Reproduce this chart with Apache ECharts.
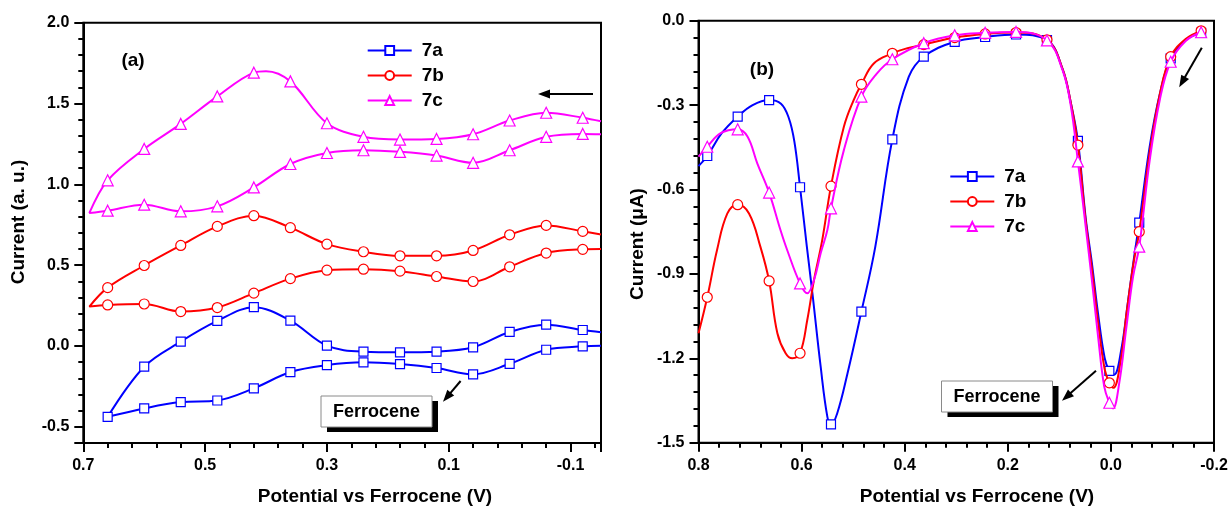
<!DOCTYPE html>
<html>
<head>
<meta charset="utf-8">
<title>CV / DPV of 7a-7c</title>
<script src="https://cdn.jsdelivr.net/npm/echarts@6/dist/echarts.min.js"></script>
<style>
  html, body { margin: 0; padding: 0; background: #fff; }
  #chart { width: 1231px; height: 508px; }
</style>
</head>
<body>
<div id="chart"></div>
<script>
// ---- panel (a): cyclic voltammograms, [potential vs Fc (V), current (a.u.)]
// upper branch read right -> left, then lower branch back left -> right
const cv7a = [
  [-0.15, 0.085], [-0.12, 0.099], [-0.06, 0.132], [0.0, 0.087], [0.06, -0.008], [0.12, -0.035],
  [0.18, -0.039], [0.24, -0.035], [0.30, 0.002], [0.36, 0.157], [0.42, 0.240], [0.48, 0.155],
  [0.54, 0.027], [0.60, -0.128], [0.66, -0.438],
  [0.60, -0.386], [0.54, -0.347], [0.48, -0.337], [0.42, -0.262], [0.36, -0.161], [0.30, -0.118],
  [0.24, -0.101], [0.18, -0.112], [0.12, -0.136], [0.06, -0.175], [0.0, -0.110], [-0.06, -0.023],
  [-0.12, -0.002], [-0.15, 0.002]
];
const cv7b = [
  [-0.15, 0.690], [-0.12, 0.709], [-0.06, 0.746], [0.0, 0.688], [0.06, 0.591], [0.12, 0.558],
  [0.18, 0.558], [0.24, 0.583], [0.30, 0.630], [0.36, 0.732], [0.42, 0.806], [0.48, 0.740],
  [0.54, 0.622], [0.60, 0.498], [0.66, 0.361], [0.69, 0.244],
  [0.66, 0.254], [0.60, 0.260], [0.54, 0.213], [0.48, 0.238], [0.42, 0.327], [0.36, 0.417],
  [0.30, 0.469], [0.24, 0.475], [0.18, 0.463], [0.12, 0.430], [0.06, 0.399], [0.0, 0.490],
  [-0.06, 0.575], [-0.12, 0.598], [-0.15, 0.600]
];
const cv7c = [
  [-0.15, 1.390], [-0.12, 1.412], [-0.06, 1.443], [0.0, 1.395], [0.06, 1.310], [0.12, 1.281],
  [0.18, 1.277], [0.24, 1.294], [0.30, 1.378], [0.36, 1.637], [0.40, 1.700], [0.42, 1.691],
  [0.48, 1.544], [0.54, 1.374], [0.60, 1.219], [0.66, 1.025], [0.69, 0.823],
  [0.66, 0.837], [0.60, 0.874], [0.54, 0.833], [0.48, 0.864], [0.42, 0.981], [0.36, 1.126],
  [0.30, 1.194], [0.24, 1.211], [0.18, 1.201], [0.12, 1.178], [0.06, 1.133], [0.0, 1.211],
  [-0.06, 1.294], [-0.12, 1.312], [-0.15, 1.310]
];
// potentials that carry a symbol in panel (a)
const cvMarkV = [0.66, 0.60, 0.54, 0.48, 0.42, 0.36, 0.30, 0.24, 0.18, 0.12, 0.06, 0.0, -0.06, -0.12];

// ---- panel (b): differential pulse curves, [potential vs Fc (V), current (uA)]
const dpv7a = [
  [0.800, -0.517], [0.783, -0.481], [0.755, -0.400], [0.724, -0.341], [0.695, -0.300], [0.663, -0.282],
  [0.640, -0.295], [0.625, -0.345], [0.614, -0.430], [0.603, -0.592], [0.590, -0.800], [0.579, -0.969],
  [0.563, -1.230], [0.550, -1.408], [0.543, -1.435], [0.531, -1.396], [0.511, -1.254], [0.484, -1.034],
  [0.457, -0.803], [0.424, -0.422], [0.392, -0.199], [0.363, -0.128], [0.303, -0.075], [0.244, -0.058],
  [0.184, -0.049], [0.124, -0.069], [0.094, -0.170], [0.078, -0.290], [0.064, -0.427], [0.049, -0.700],
  [0.037, -0.860], [0.025, -1.040], [0.012, -1.200], [0.003, -1.245], [-0.006, -1.258], [-0.020, -1.170],
  [-0.033, -1.000], [-0.045, -0.840], [-0.055, -0.718], [-0.075, -0.450], [-0.095, -0.260], [-0.116, -0.134],
  [-0.145, -0.069], [-0.175, -0.043]
];
const dpv7b = [
  [0.800, -1.111], [0.783, -0.983], [0.764, -0.815], [0.744, -0.685], [0.724, -0.654], [0.702, -0.685],
  [0.680, -0.803], [0.663, -0.925], [0.647, -1.111], [0.631, -1.182], [0.618, -1.200], [0.603, -1.182],
  [0.589, -1.064], [0.576, -0.922], [0.560, -0.780], [0.543, -0.588], [0.518, -0.377], [0.499, -0.282],
  [0.484, -0.226], [0.460, -0.152], [0.424, -0.116], [0.395, -0.098], [0.363, -0.085], [0.303, -0.060],
  [0.244, -0.047], [0.184, -0.042], [0.124, -0.068], [0.094, -0.170], [0.078, -0.290], [0.064, -0.442],
  [0.049, -0.710], [0.037, -0.880], [0.025, -1.070], [0.012, -1.240], [0.003, -1.287], [-0.005, -1.305],
  [-0.018, -1.220], [-0.031, -1.030], [-0.044, -0.860], [-0.055, -0.750], [-0.075, -0.470], [-0.095, -0.260],
  [-0.116, -0.128], [-0.145, -0.065], [-0.175, -0.036]
];
const dpv7c = [
  [0.800, -0.483], [0.783, -0.448], [0.757, -0.400], [0.724, -0.386], [0.705, -0.412], [0.686, -0.507],
  [0.663, -0.611], [0.641, -0.744], [0.628, -0.815], [0.603, -0.934], [0.589, -0.969], [0.576, -0.922],
  [0.563, -0.827], [0.550, -0.744], [0.543, -0.667], [0.518, -0.460], [0.484, -0.270], [0.455, -0.190],
  [0.424, -0.137], [0.363, -0.080], [0.303, -0.052], [0.244, -0.043], [0.184, -0.040], [0.124, -0.070],
  [0.094, -0.175], [0.078, -0.300], [0.064, -0.500], [0.049, -0.730], [0.037, -0.920], [0.025, -1.120],
  [0.013, -1.300], [0.003, -1.358], [-0.004, -1.378], [-0.016, -1.290], [-0.030, -1.090], [-0.043, -0.910],
  [-0.055, -0.803], [-0.075, -0.500], [-0.095, -0.280], [-0.116, -0.146], [-0.145, -0.072], [-0.175, -0.041]
];
const dpvMarkV = [0.783, 0.724, 0.663, 0.603, 0.543, 0.484, 0.424, 0.363, 0.303, 0.244, 0.184,
  0.124, 0.064, 0.003, -0.055, -0.116, -0.175];

// panel (a) ranges; its ticks start at the top-left corner (x = 0.7, y = 2.0)
const rangeAX = [-0.15, 0.7], rangeAY = [-0.6, 2.0];

const names = ['7a', '7b', '7c'];
const colors = ['#0000ff', '#ff0000', '#ff00ff'];
const symbols = ['rect', 'circle', 'triangle'];
const symSizes = [9, 10, 11];

const FONT = 'Liberation Sans, Arial, sans-serif';

function toItems(points, markV) {
  return points.map(function (p) {
    const marked = markV.some(function (v) { return Math.abs(v - p[0]) < 1e-6; });
    return marked ? { value: p } : { value: p, symbol: 'none' };
  });
}

function makeSeries(i, pts, markV, axisIdx, smooth) {
  return {
    name: names[i],
    type: 'line',
    xAxisIndex: axisIdx,
    yAxisIndex: axisIdx,
    data: toItems(pts, markV),
    smooth: smooth,
    symbol: symbols[i],
    symbolSize: symSizes[i],
    showSymbol: true,
    lineStyle: { color: colors[i], width: 2 },
    itemStyle: { color: '#fff', borderColor: colors[i], borderWidth: 1.2 },
    emphasis: { disabled: true },
    z: 3 + i
  };
}

const fmt = function (v) { return (Math.abs(v) < 1e-9 ? 0 : v).toFixed(1); };
const labelStyle = { color: '#000', fontSize: 16, fontWeight: 'bold', fontFamily: FONT };
const lineBlack = { color: '#000', width: 2 };

function arrow(x1, y1, x2, y2) {
  const a = Math.atan2(y2 - y1, x2 - x1);
  const L = 12, W = 4.5;
  const bx = x2 - L * Math.cos(a), by = y2 - L * Math.sin(a);
  const px = -Math.sin(a) * W, py = Math.cos(a) * W;
  return [
    { type: 'line', z: 50, shape: { x1: x1, y1: y1, x2: bx + 2 * Math.cos(a), y2: by + 2 * Math.sin(a) },
      style: { stroke: '#000', lineWidth: 2 } },
    { type: 'polygon', z: 50, shape: { points: [[x2, y2], [bx + px, by + py], [bx - px, by - py]] },
      style: { fill: '#000' } }
  ];
}

function tagBox(x, y, w, h) {
  return [
    { type: 'rect', z: 50, shape: { x: x + 6, y: y + 5, width: w, height: h }, style: { fill: '#000' } },
    { type: 'rect', z: 51, shape: { x: x, y: y, width: w, height: h },
      style: { fill: '#fff', stroke: '#8a8a8a', lineWidth: 1 } },
    { type: 'text', z: 52, x: x + w / 2, y: y + h / 2 + 1,
      style: { text: 'Ferrocene', fill: '#000', fontSize: 18, fontWeight: 'bold', fontFamily: FONT,
        align: 'center', verticalAlign: 'middle' } }
  ];
}

function txt(s, x, y, size, rot) {
  return { type: 'text', z: 52, x: x, y: y, rotation: rot || 0,
    style: { text: s, fill: '#000', fontSize: size, fontWeight: 'bold', fontFamily: FONT,
      align: 'center', verticalAlign: 'middle' } };
}

const chart = echarts.init(document.getElementById('chart'), null, { renderer: 'canvas' });

const legendBase = {
  orient: 'vertical',
  padding: 0,
  itemWidth: 44,
  itemHeight: 11,
  itemGap: 6,
  selectedMode: false,
  data: names,
  textStyle: { color: '#000', fontSize: 19, fontWeight: 'bold', fontFamily: FONT, lineHeight: 18,
    padding: [0, 0, 0, 5] }
};

const option = {
  animation: false,
  backgroundColor: '#fff',
  grid: [
    { left: 83.3, top: 22.7, width: 517.7, height: 420.3, show: true, borderColor: '#000', borderWidth: 2 },
    { left: 698.5, top: 20.7, width: 515.5, height: 422, show: true, borderColor: '#000', borderWidth: 2 }
  ],
  legend: [
    Object.assign({}, legendBase, { left: 366.7, top: 41 }),
    Object.assign({}, legendBase, { left: 949.3, top: 167 })
  ],
  xAxis: [
    // data axis of panel (a), hidden; the tick axis below draws the scale
    { gridIndex: 0, type: 'value', min: rangeAX[0], max: rangeAX[1], inverse: true, position: 'top',
      show: false },
    { gridIndex: 1, type: 'value', min: -0.2, max: 0.8, interval: 0.2, inverse: true, position: 'bottom',
      axisLine: { onZero: false, lineStyle: lineBlack },
      axisTick: { show: true, length: 9, lineStyle: lineBlack },
      minorTick: { show: true, splitNumber: 5, length: 5, lineStyle: lineBlack },
      axisLabel: Object.assign({ formatter: fmt, margin: 15 }, labelStyle),
      splitLine: { show: false } },
    // tick axis of panel (a): distance from the 0.7 V edge, labelled in volts
    { gridIndex: 0, type: 'value', min: 0, max: rangeAX[1] - rangeAX[0], interval: 0.2, position: 'bottom',
      axisLine: { onZero: false, lineStyle: lineBlack },
      axisTick: { show: true, length: 9, lineStyle: lineBlack },
      minorTick: { show: true, splitNumber: 5, length: 5, lineStyle: lineBlack },
      axisLabel: Object.assign({ formatter: function (t) { return fmt(rangeAX[1] - t); },
        margin: 15, showMaxLabel: false }, labelStyle),
      splitLine: { show: false } }
  ],
  yAxis: [
    { gridIndex: 0, type: 'value', min: rangeAY[0], max: rangeAY[1], position: 'right', show: false },
    { gridIndex: 1, type: 'value', min: -1.5, max: 0, interval: 0.3, position: 'left',
      axisLine: { show: true, onZero: false, lineStyle: lineBlack },
      axisTick: { show: true, length: 9, lineStyle: lineBlack },
      minorTick: { show: true, splitNumber: 5, length: 5, lineStyle: lineBlack },
      axisLabel: Object.assign({ formatter: fmt, margin: 14 }, labelStyle),
      splitLine: { show: false } },
    // tick axis of panel (a): distance down from the 2.0 edge, labelled in current units
    { gridIndex: 0, type: 'value', min: 0, max: rangeAY[1] - rangeAY[0], interval: 0.5, inverse: true,
      position: 'left',
      axisLine: { show: true, onZero: false, lineStyle: lineBlack },
      axisTick: { show: true, length: 9, lineStyle: lineBlack },
      minorTick: { show: true, splitNumber: 5, length: 5, lineStyle: lineBlack },
      axisLabel: Object.assign({ formatter: function (t) { return fmt(rangeAY[1] - t); },
        margin: 14, showMaxLabel: false }, labelStyle),
      splitLine: { show: false } }
  ],
  series: [
    makeSeries(0, cv7a, cvMarkV, 0, 0.35),
    makeSeries(1, cv7b, cvMarkV, 0, 0.35),
    makeSeries(2, cv7c, cvMarkV, 0, 0.35),
    makeSeries(0, dpv7a, dpvMarkV, 1, 0.4),
    makeSeries(1, dpv7b, dpvMarkV, 1, 0.4),
    makeSeries(2, dpv7c, dpvMarkV, 1, 0.4)
  ],
  graphic: [].concat(
    [txt('(a)', 133, 61, 19), txt('(b)', 762, 70, 19)],
    [txt('Potential vs Ferrocene (V)', 375, 497, 19), txt('Potential vs Ferrocene (V)', 977, 497, 19)],
    [txt('Current (a. u.)', 19, 222, 19, Math.PI / 2), txt('Current (\u03bcA)', 638, 244, 19, Math.PI / 2)],
    arrow(593, 94, 538, 94),
    arrow(460.6, 381, 443, 401.7),
    tagBox(321, 396, 111, 31),
    arrow(1096, 370.7, 1062, 400.7),
    tagBox(941.5, 381, 111, 31),
    arrow(1201.8, 47.7, 1179.2, 87.3)
  )
};

chart.setOption(option);
</script>
</body>
</html>
